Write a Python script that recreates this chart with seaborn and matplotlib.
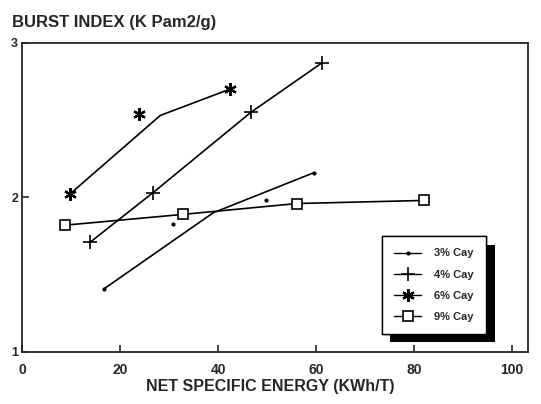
import matplotlib
matplotlib.use("Agg")
import matplotlib.pyplot as plt
import matplotlib.patheffects as pe
from matplotlib.lines import Line2D
import seaborn as sns

# measured points
x3 = [16.8, 30.9, 49.7, 59.6]
y3 = [1.41, 1.83, 1.98, 2.16]
x4 = [13.9, 26.7, 46.7, 61.2]
y4 = [1.71, 2.03, 2.55, 2.87]
x6 = [9.7, 23.9, 42.4]
y6 = [2.02, 2.54, 2.70]
x9 = [8.8, 32.9, 56.1, 82.0]
y9 = [1.82, 1.89, 1.96, 1.98]

# fitted curves (as drawn)
fit3_x = [16.8, 39.0, 59.6]
fit3_y = [1.41, 1.90, 2.16]
fit6_x = [9.7, 28.2, 42.4]
fit6_y = [2.02, 2.53, 2.70]

labels = ["3% Cay", "4% Cay", "6% Cay", "9% Cay"]
xticks = [0, 20, 40, 60, 80, 100]
yticks = [1, 2, 3]

sns.set_style("ticks")
plt.rcParams['font.family'] = ['Liberation Sans', 'DejaVu Sans']

fig = plt.figure(figsize=(5.41, 4.04), dpi=100)
ax = fig.add_axes([0.041, 0.129, 0.935, 0.765])

asterisk = (6, 2, 0)
styles = [
    dict(marker='o', ms=3, mfc='black', mew=0),
    dict(marker='+', ms=10, mew=1.2),
    dict(marker=asterisk, ms=9, mew=1.6),
    dict(marker='s', ms=7, mfc='white', mew=1.2),
]

# lines
sns.lineplot(x=fit3_x, y=fit3_y, ax=ax, color='black', lw=1.2)
sns.lineplot(x=x4, y=y4, ax=ax, color='black', lw=1.2)
sns.lineplot(x=fit6_x, y=fit6_y, ax=ax, color='black', lw=1.2)
sns.lineplot(x=x9, y=y9, ax=ax, color='black', lw=1.2)

# markers
for xs, ys, st in zip([x3, x4, x6, x9], [y3, y4, y6, y9], styles):
    ax.plot(xs, ys, ls='none', color='black', mec='black', zorder=3, **st)

ax.set_xlim(0, 103.3)
ax.set_ylim(1, 3)
ax.set_xticks(xticks)
ax.set_yticks(yticks)
ax.set_xticklabels([str(t) for t in xticks], fontweight='bold', fontsize=10)
ax.set_yticklabels([str(t) for t in yticks], fontweight='bold', fontsize=9)
ax.tick_params(axis='both', direction='in', length=5, width=1.2)
ax.tick_params(axis='x', pad=8)
ax.tick_params(axis='y', pad=3)
for s in ax.spines.values():
    s.set_linewidth(1.3)
    s.set_visible(True)

fig.text(0.022, 0.925, "BURST INDEX (K Pam2/g)", fontsize=12, fontweight='bold',
         ha='left', va='bottom')
fig.text(0.5, 0.025, "NET SPECIFIC ENERGY (KWh/T)", fontsize=11.5, fontweight='bold',
         ha='center', va='bottom')

handles = [Line2D([], [], color='black', lw=1.0, **st) for st in styles]
leg = ax.legend(handles, labels, loc='upper left', bbox_to_anchor=(0.705, 0.385),
                frameon=True, fancybox=False, edgecolor='black', framealpha=1,
                prop={'weight': 'bold', 'size': 8}, handlelength=2.4,
                labelspacing=1.0, borderpad=1.1, handletextpad=1.2,
                borderaxespad=0.3)
leg.get_frame().set_linewidth(1.0)
leg.get_frame().set_path_effects([
    pe.withSimplePatchShadow(offset=(6, -6), shadow_rgbFace='black', alpha=1.0),
    pe.Normal()])

fig.savefig("out.png", dpi=100)
